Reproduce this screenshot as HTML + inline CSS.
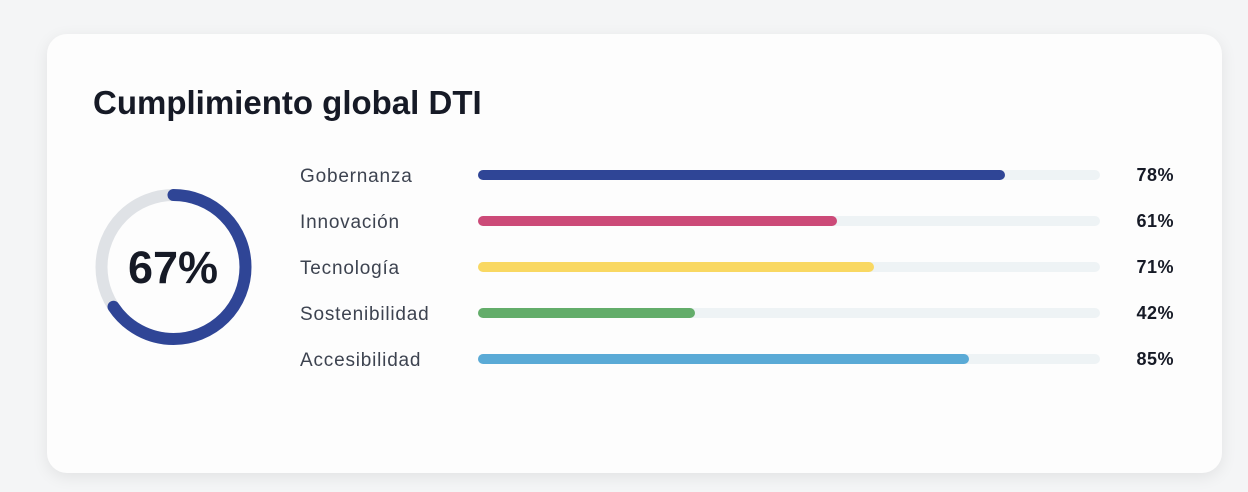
<!DOCTYPE html>
<html><head><meta charset="utf-8"><style>
html,body{margin:0;padding:0;width:1248px;height:492px;background:#f4f5f6;overflow:hidden;font-family:"Liberation Sans",sans-serif;}
.card{position:absolute;left:47px;top:34px;width:1175px;height:439px;background:#fdfdfd;border-radius:20px;box-shadow:0 4px 16px rgba(0,0,0,0.08);}
.title{position:absolute;left:93px;top:84px;font-size:33px;font-weight:bold;color:#161a26;letter-spacing:0px;}
.lbl{position:absolute;left:300px;font-size:19px;color:#3d4350;letter-spacing:0.8px;}
.trk{position:absolute;left:478px;width:622px;height:10px;border-radius:5px;background:#eef3f5;}
.fill{position:absolute;left:0;top:0;height:10px;border-radius:5px;}
.pct{position:absolute;right:74px;font-size:18px;font-weight:bold;color:#161a26;letter-spacing:0.5px;}
.big{position:absolute;left:103px;top:242px;width:140px;text-align:center;font-size:45px;font-weight:bold;color:#161a26;}
</style></head><body>
<div class="card"></div>
<div class="title">Cumplimiento global DTI</div>
<svg style="position:absolute;left:0;top:0" width="1248" height="492">
<circle cx="173.5" cy="267" r="72" fill="none" stroke="#dfe2e6" stroke-width="12"/>
<circle cx="173.5" cy="267" r="72" fill="none" stroke="#2f4596" stroke-width="12" stroke-linecap="round" stroke-dasharray="297 1000" transform="rotate(-90 173.5 267)"/>
</svg>
<div class="big">67%</div>

<div class="lbl" style="top:166px">Gobernanza</div>
<div class="trk" style="top:170px"><div class="fill" style="width:527px;background:#2f4596"></div></div>
<div class="pct" style="top:165px">78%</div>

<div class="lbl" style="top:212px">Innovación</div>
<div class="trk" style="top:216px"><div class="fill" style="width:359px;background:#cc4a78"></div></div>
<div class="pct" style="top:211px">61%</div>

<div class="lbl" style="top:258px">Tecnología</div>
<div class="trk" style="top:262px"><div class="fill" style="width:396px;background:#f9d862"></div></div>
<div class="pct" style="top:257px">71%</div>

<div class="lbl" style="top:304px">Sostenibilidad</div>
<div class="trk" style="top:308px"><div class="fill" style="width:217px;background:#63ad6a"></div></div>
<div class="pct" style="top:303px">42%</div>

<div class="lbl" style="top:350px">Accesibilidad</div>
<div class="trk" style="top:354px"><div class="fill" style="width:491px;background:#5aaad6"></div></div>
<div class="pct" style="top:349px">85%</div>
</body></html>
